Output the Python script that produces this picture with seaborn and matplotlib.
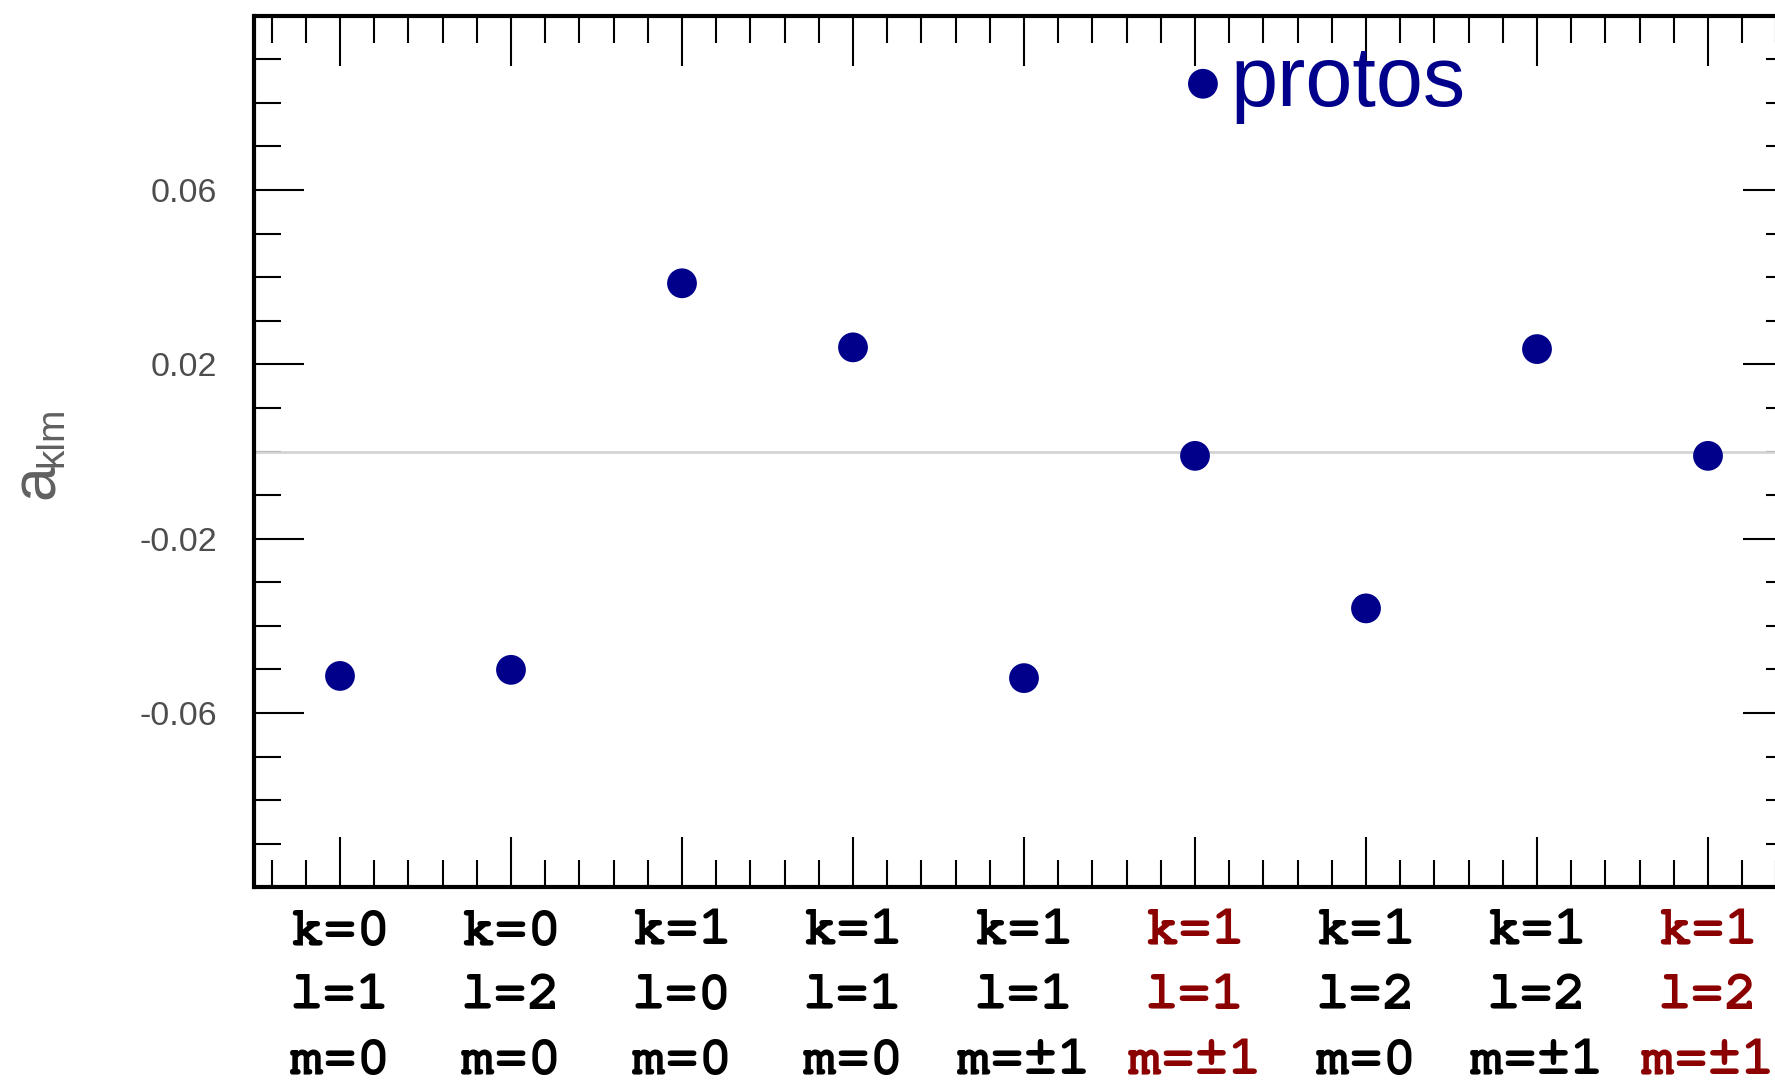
import matplotlib
matplotlib.use("Agg")
import matplotlib.pyplot as plt
from matplotlib import font_manager
from matplotlib.ticker import MultipleLocator
import seaborn as sns
import pandas as pd

# Spin-correlation coefficients a_klm, one per (k, l, m) term
k_labels = ["0", "0", "1", "1", "1", "1", "1", "1", "1"]
l_labels = ["1", "2", "0", "1", "1", "1", "2", "2", "2"]
m_labels = ["0", "0", "0", "0", "±1", "±1", "0", "±1", "±1"]
odd_terms = [False, False, False, False, False, True, False, False, True]
a_klm = [-0.0515, -0.0501, 0.0386, 0.0239, -0.0520, -0.001, -0.0360, 0.0235, -0.001]
series_name = "protos"

y_tick_values = [-0.06, -0.02, 0.02, 0.06]


def first_font(candidates, fallback):
    names = {f.name for f in font_manager.fontManager.ttflist}
    for c in candidates:
        if c in names:
            return c
    return fallback


mono = first_font(["Courier New", "Nimbus Mono PS", "FreeMono", "Liberation Mono"], "DejaVu Sans Mono")
sans = first_font(["Liberation Sans", "Arial"], "DejaVu Sans")
narrow = first_font(["Liberation Sans Narrow", "Arial Narrow"], sans)

sns.set_style("ticks")
plt.rcParams["font.family"] = [sans, "DejaVu Sans"]
plt.rcParams["axes.unicode_minus"] = False

point_color = "#00008B"
odd_color = "#8B0000"

df = pd.DataFrame({
    "term": range(1, len(a_klm) + 1),
    "a_klm": a_klm,
})

fig = plt.figure(figsize=(17.75, 10.84), dpi=100)
W, H = 1775.0, 1084.0
ax = fig.add_axes([254.5 / W, 1 - 887.3 / H, 1539.0 / W, (887.3 - 15.7) / H])

ax.axhline(0, color="#d4d4d4", lw=2.0, zorder=1)
sns.scatterplot(data=df, x="term", y="a_klm", color=point_color, s=460,
                edgecolor="none", linewidth=0, label=series_name, ax=ax, zorder=3)

ax.set_xlim(0.5, 9.5)
ax.set_ylim(-0.1, 0.1)

tick_texts = [f"k={k}\nl={l}\nm={m}" for k, l, m in zip(k_labels, l_labels, m_labels)]
ax.set_xticks(df["term"])
ax.set_xticklabels(tick_texts, fontfamily=mono, fontweight="bold", fontsize=40,
                   linespacing=1.54)
for lab, odd in zip(ax.get_xticklabels(), odd_terms):
    lab.set_color(odd_color if odd else "black")

ax.set_yticks(y_tick_values)
ax.set_yticklabels([f"{v:g}" for v in y_tick_values], fontsize=24.5, color="#4d4d4d")
ax.xaxis.set_minor_locator(MultipleLocator(0.2))
ax.yaxis.set_minor_locator(MultipleLocator(0.01))

ax.tick_params(which="both", direction="in", top=True, right=True, color="black")
ax.tick_params(which="major", length=36, width=1.5)
ax.tick_params(which="minor", length=19.5, width=1.5)
ax.tick_params(axis="y", which="major", pad=27)
ax.tick_params(axis="x", which="major", pad=16)

for sp in ax.spines.values():
    sp.set_linewidth(3.0)
    sp.set_color("black")

ax.set_xlabel("")
ax.set_ylabel("")

# axis title a_klm, drawn as a large "a" with a small subscript
fig.text(54 / W, 1 - 499 / H, "a", rotation=90, rotation_mode="anchor",
         ha="left", va="baseline", fontsize=45, color="#606060", family=narrow)
fig.text(62 / W, 1 - 467 / H, "klm", rotation=90, rotation_mode="anchor",
         ha="left", va="baseline", fontsize=28, color="#606060", family=narrow)

leg = ax.legend(loc="center left", bbox_to_anchor=(1186 / W, 1 - 84 / H),
                bbox_transform=fig.transFigure, frameon=False, fontsize=61,
                handlelength=0.4, handletextpad=0.12, borderpad=0,
                borderaxespad=0, markerscale=1.0)
for t in leg.get_texts():
    t.set_color(point_color)

fig.savefig("out.png", dpi=100)
